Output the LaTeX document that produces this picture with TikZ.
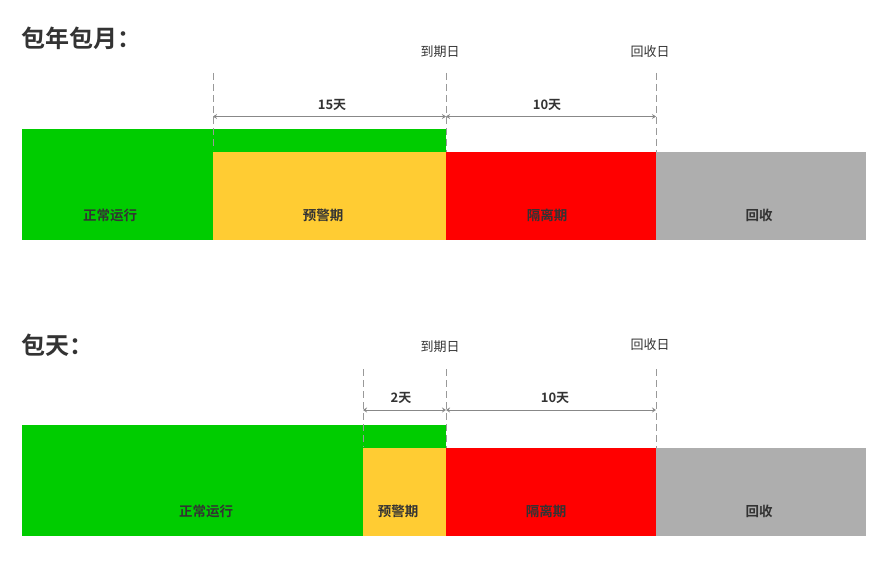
\documentclass[tikz,border=0pt]{standalone}
\usepackage{fontspec}
\setmainfont{Noto Sans CJK SC}[BoldFont={Noto Sans CJK SC Bold}]
\usetikzlibrary{arrows.meta}

\definecolor{rungreen}{HTML}{00CC00}
\definecolor{warnyellow}{HTML}{FFCC33}
\definecolor{isored}{HTML}{FF0000}
\definecolor{recgray}{HTML}{AEAEAE}
\definecolor{txtgray}{HTML}{333333}
\definecolor{guidegray}{HTML}{999999}
\definecolor{spangray}{HTML}{888888}

\begin{document}
\begin{tikzpicture}[x = 1pt, y = -1pt]
		\tikzstyle{every node} = [inner sep = 0pt, text = txtgray]
		\tikzstyle{title} = [anchor = west, font = \fontsize{24}{26}\selectfont\bfseries]
		\tikzstyle{barlabel} = [font = \fontsize{13.5}{15}\selectfont\bfseries]
		\tikzstyle{daylabel} = [font = \fontsize{13}{15}\selectfont\bfseries]
		\tikzstyle{datelabel} = [font = \fontsize{13}{15}\selectfont]
		\tikzstyle{guide} = [guidegray, line width = 1pt, dash pattern = on 7pt off 4pt]
		\tikzstyle{span} = [spangray, line width = 1pt, {Stealth[length = 4pt, width = 5pt]}-{Stealth[length = 4pt, width = 5pt]}]

		\useasboundingbox (0,0) rectangle (888,561);

		%% monthly / yearly
		\node[title] (titleA) at (21,38) {包年包月：};

		\fill[rungreen] (22,129) rectangle (446,240);
		\fill[warnyellow] (213,152) rectangle (446,240);
		\fill[isored] (446,152) rectangle (656,240);
		\fill[recgray] (656,152) rectangle (866,240);

		\node[barlabel] (runA) at (110,215) {正常运行};
		\node[barlabel] (warnA) at (323,215) {预警期};
		\node[barlabel] (isoA) at (547,215) {隔离期};
		\node[barlabel] (recA) at (759,215) {回收};

		\coordinate (warnAtop) at (213,73);
		\coordinate (expAtop) at (446,73);
		\coordinate (recAtop) at (656,73);
		\draw[guide] (warnAtop) -- (213,150); %warning start
		\draw[guide] (expAtop) -- (446,152); %expiry
		\draw[guide] (recAtop) -- (656,152); %recycle

		\coordinate (warnAs) at (213,116.5);
		\coordinate (expAs) at (446,116.5);
		\coordinate (recAs) at (656,116.5);
		\draw[span] (warnAs) -- (expAs);
		\draw[span] (expAs) -- (recAs);

		\node[daylabel] (dayA1) at (332,105) {15天};
		\node[daylabel] (dayA2) at (547,105) {10天};
		\node[datelabel] (expA) at (440,52) {到期日};
		\node[datelabel] (recdA) at (650,52) {回收日};

		%% daily
		\node[title] (titleB) at (21,345) {包天：};

		\fill[rungreen] (22,425) rectangle (446,536);
		\fill[warnyellow] (363,448) rectangle (446,536);
		\fill[isored] (446,448) rectangle (656,536);
		\fill[recgray] (656,448) rectangle (866,536);

		\node[barlabel] (runB) at (206,511) {正常运行};
		\node[barlabel] (warnB) at (398,511) {预警期};
		\node[barlabel] (isoB) at (546,511) {隔离期};
		\node[barlabel] (recB) at (759,511) {回收};

		\coordinate (warnBtop) at (363,369);
		\coordinate (expBtop) at (446,369);
		\coordinate (recBtop) at (656,369);
		\draw[guide] (warnBtop) -- (363,447); %warning start
		\draw[guide] (expBtop) -- (446,448); %expiry
		\draw[guide] (recBtop) -- (656,448); %recycle

		\coordinate (warnBs) at (363,410);
		\coordinate (expBs) at (446,410);
		\coordinate (recBs) at (656,410);
		\draw[span] (warnBs) -- (expBs);
		\draw[span] (expBs) -- (recBs);

		\node[daylabel] (dayB1) at (401,398) {2天};
		\node[daylabel] (dayB2) at (555,398) {10天};
		\node[datelabel] (expB) at (440,347) {到期日};
		\node[datelabel] (recdB) at (650,345) {回收日};
	\end{tikzpicture}
\end{document}
